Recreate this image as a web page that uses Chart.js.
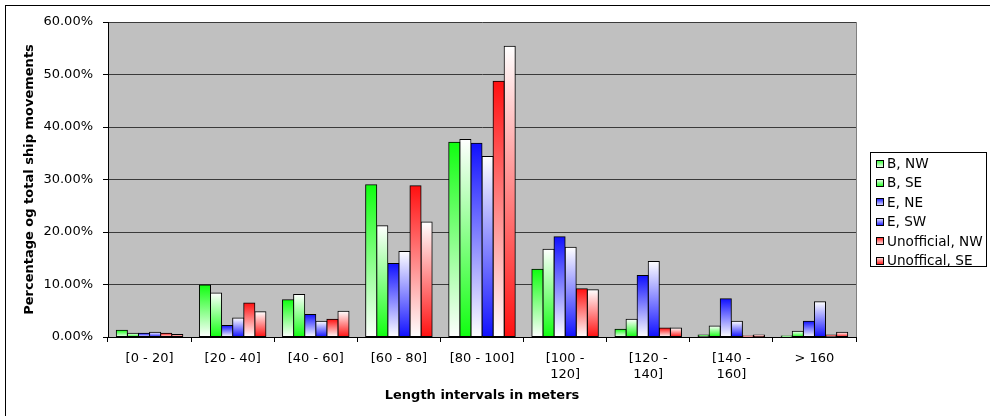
<!DOCTYPE html>
<html>
<head>
<meta charset="utf-8">
<script src="https://cdn.jsdelivr.net/npm/chart.js@4/dist/chart.umd.min.js"></script>
<style>
  html, body { margin: 0; padding: 0; background: #fff; }
  canvas { display: block; }
</style>
</head>
<body>
<canvas id="chart" width="990" height="416"></canvas>
<script>
// Ship length distribution per route (percentage of total ship movements)
const categories = ['[0 - 20]', '[20 - 40]', '[40 - 60]', '[60 - 80]', '[80 - 100]',
    ['[100 -', '120]'], ['[120 -', '140]'], ['[140 -', '160]'], '> 160'];

const seriesNames = ['B, NW', 'B, SE', 'E, NE', 'E, SW', 'Unofficial, NW', 'Unoffical, SE'];

const bNW = [1.3, 9.9, 7.1, 29.0, 37.1, 12.9, 1.5, 0.4, 0.2];
const bSE = [0.7, 8.4, 8.1, 21.2, 37.6, 16.7, 3.4, 2.1, 1.1];
const eNE = [0.7, 2.2, 4.3, 14.0, 36.9, 19.1, 11.7, 7.3, 3.0];
const eSW = [0.9, 3.6, 3.0, 16.3, 34.4, 17.1, 14.4, 3.0, 6.7];
const uNW = [0.7, 6.5, 3.4, 28.8, 48.7, 9.2, 1.7, 0.2, 0.4];
const uSE = [0.5, 4.8, 4.9, 21.9, 55.4, 9.0, 1.7, 0.4, 0.9];

const yTicks = [0, 10, 20, 30, 40, 50, 60];

const green = '#10ff10';
const blue = '#1010ff';
const red = '#ff1010';

// each bar fades between its colour and white, top to bottom
function barFill(color, whiteOnTop) {
    return (context) => {
        const chart = context.chart;
        const y = chart.scales.y;
        const v = context.raw;
        if (!y || v == null) return color;
        const top = y.getPixelForValue(v);
        const base = y.getPixelForValue(0);
        if (!(base > top)) return color;
        const g = chart.ctx.createLinearGradient(0, top, 0, base);
        g.addColorStop(0, whiteOnTop ? '#ffffff' : color);
        g.addColorStop(1, whiteOnTop ? color : '#ffffff');
        return g;
    };
}

const series = [
    { data: bNW, color: green, whiteOnTop: false },
    { data: bSE, color: green, whiteOnTop: true },
    { data: eNE, color: blue, whiteOnTop: false },
    { data: eSW, color: blue, whiteOnTop: true },
    { data: uNW, color: red, whiteOnTop: false },
    { data: uSE, color: red, whiteOnTop: true }
];

const plotBackground = {
    id: 'plotBackground',
    beforeDraw(chart) {
        const { ctx, chartArea: a } = chart;
        ctx.save();
        ctx.fillStyle = '#ffffff';
        ctx.fillRect(0, 0, chart.width, chart.height);
        ctx.fillStyle = '#c0c0c0';
        ctx.fillRect(a.left, a.top, a.right - a.left, a.bottom - a.top);
        // outer frame
        ctx.strokeStyle = '#000';
        ctx.lineWidth = 1;
        ctx.strokeRect(5.5, 5.5, 990, 420);
        ctx.restore();
    },
    afterDraw(chart) {
        const { ctx, chartArea: a } = chart;
        ctx.save();
        ctx.strokeStyle = '#808080';
        ctx.lineWidth = 1;
        ctx.beginPath();
        ctx.moveTo(Math.round(a.right) + 0.5, a.top);
        ctx.lineTo(Math.round(a.right) + 0.5, a.bottom);
        ctx.stroke();
        ctx.restore();
    }
};

// boxed legend on the right
const boxLegend = {
    id: 'boxLegend',
    afterDraw(chart) {
        const ctx = chart.ctx;
        const x = 870, y = 152, w = 116, h = 114;
        ctx.save();
        ctx.fillStyle = '#fff';
        ctx.fillRect(x, y, w, h);
        ctx.strokeStyle = '#000';
        ctx.lineWidth = 1;
        ctx.strokeRect(x + 0.5, y + 0.5, w, h);
        ctx.font = '13.6px "DejaVu Sans"';
        ctx.textBaseline = 'middle';
        ctx.textAlign = 'left';
        chart.data.datasets.forEach((ds, i) => {
            const cy = y + 11.5 + i * 19.4;
            const s = series[i];
            const g = ctx.createLinearGradient(0, cy - 4, 0, cy + 4);
            g.addColorStop(0, s.whiteOnTop ? '#fff' : s.color);
            g.addColorStop(1, s.whiteOnTop ? s.color : '#fff');
            ctx.fillStyle = g;
            ctx.fillRect(876, Math.round(cy) - 4, 7, 7);
            ctx.strokeStyle = '#000';
            ctx.strokeRect(876.5, Math.round(cy) - 3.5, 7, 7);
            ctx.fillStyle = '#000';
            ctx.fillText(ds.label, 887, cy + 1);
        });
        ctx.restore();
    }
};

new Chart(document.getElementById('chart'), {
    type: 'bar',
    data: {
        labels: categories,
        datasets: series.map((s, i) => ({
            label: seriesNames[i],
            data: s.data,
            backgroundColor: barFill(s.color, s.whiteOnTop),
            borderColor: '#000',
            borderWidth: 1,
            borderSkipped: false,
            inflateAmount: 0.5,
            categoryPercentage: 0.8,
            barPercentage: 1
        }))
    },
    options: {
        responsive: false,
        animation: false,
        layout: { padding: { left: 5, top: 22, right: 134, bottom: 5 } },
        plugins: {
            legend: { display: false },
            tooltip: { enabled: false }
        },
        scales: {
            x: {
                grid: { offset: true, drawOnChartArea: false, tickLength: 5, tickColor: '#000' },
                border: { color: '#000', width: 1 },
                ticks: {
                    color: '#000',
                    font: { family: 'DejaVu Sans', size: 13 },
                    maxRotation: 0,
                    autoSkip: false,
                    padding: 9
                },
                title: {
                    display: true,
                    text: 'Length intervals in meters',
                    color: '#000',
                    font: { family: 'DejaVu Sans', size: 13, weight: 'bold' },
                    padding: { top: 0, bottom: 8 }
                },
                afterFit(scale) { scale.height = 74; }
            },
            y: {
                min: 0,
                max: 60,
                afterBuildTicks(scale) { scale.ticks = yTicks.map(v => ({ value: v })); },
                grid: { color: '#3a3a3a', tickLength: 5, tickColor: '#000' },
                border: { color: '#000', width: 1 },
                ticks: {
                    color: '#000',
                    font: { family: 'DejaVu Sans', size: 13 },
                    padding: 10,
                    callback: v => v.toFixed(2) + '%'
                },
                title: {
                    display: true,
                    text: 'Percentage og total ship movements',
                    color: '#000',
                    font: { family: 'DejaVu Sans', size: 13, weight: 'bold' },
                    padding: { top: 17, bottom: 0 }
                },
                afterFit(scale) { scale.width = 103; }
            }
        }
    },
    plugins: [plotBackground, boxLegend]
});
</script>
</body>
</html>
